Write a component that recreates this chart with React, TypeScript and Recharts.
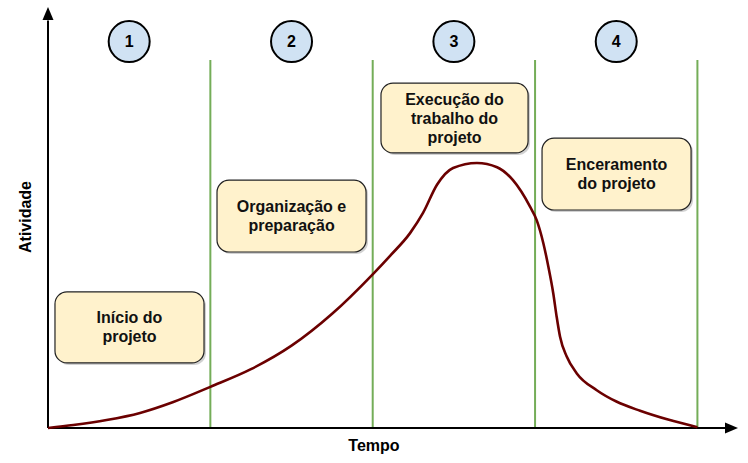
import React from 'react';
import {
  ComposedChart,
  Line,
  XAxis,
  YAxis,
  ReferenceLine,
  ReferenceArea,
  ReferenceDot,
  Customized
} from 'recharts';

// curve: time in phases (0..4), activity in % of the axis height
const timeValues = [
  0, 0.156, 0.361, 0.567, 0.772, 1.0, 1.25, 1.5, 1.75, 2.0, 2.107,
  2.23, 2.31, 2.396, 2.495, 2.642, 2.766, 2.864, 2.969, 3.01, 3.051, 3.082,
  3.112, 3.133, 3.154, 3.195, 3.257, 3.38, 3.501, 3.647, 3.819, 4.0
];
const activityValues = [
  0, 0.7, 1.9, 3.6, 6.2, 9.8, 14.0, 19.6, 27.2, 36.6, 41.0,
  46.4, 51.2, 57.9, 61.9, 63.1, 62.1, 59.0, 52.7, 49.5, 44.0, 38.4,
  32.1, 26.5, 21.7, 17.0, 13.0, 9.0, 6.3, 4.1, 2.0, 0.2
];

const phaseEnds = [1, 2, 3, 4];
const phaseNumbers = ['1', '2', '3', '4'];
const phaseTitles = [
  ['Início do', 'projeto'],
  ['Organização e', 'preparação'],
  ['Execução do', 'trabalho do', 'projeto'],
  ['Enceramento', 'do projeto']
];

// where each phase box sits (data units)
const boxLayout = [
  { x1: 0.043, x2: 0.961, y1: 15.5, y2: 32.4 },
  { x1: 1.041, x2: 1.959, y1: 41.9, y2: 59.0 },
  { x1: 2.051, x2: 2.957, y1: 65.5, y2: 82.1 },
  { x1: 3.043, x2: 3.961, y1: 51.9, y2: 69.0 }
];

const data = timeValues.map((t, i) => ({ t, activity: activityValues[i] }));

const FONT = '"Liberation Sans", Arial, sans-serif';

const PhaseBox = (lines: string[]) => (props: any) => {
  const { x, y, width, height } = props;
  const cx = x + width / 2;
  const cy = y + height / 2;
  const lh = 19;
  const startY = cy - ((lines.length - 1) * lh) / 2;
  return (
    <g>
      <rect x={x + 2} y={y + 2} width={width} height={height} rx={12} fill="#000" fillOpacity={0.18} />
      <rect x={x} y={y} width={width} height={height} rx={12} fill="#fff2cc" stroke="#222" strokeWidth={1.2} />
      {lines.map((l, i) => (
        <text
          key={i}
          x={cx}
          y={startY + i * lh}
          textAnchor="middle"
          dominantBaseline="central"
          fontFamily={FONT}
          fontWeight="bold"
          fontSize={16}
          fill="#111"
        >
          {l}
        </text>
      ))}
    </g>
  );
};

const PhaseCircle = (label: string) => (props: any) => {
  const { cx, cy } = props;
  return (
    <g>
      <circle cx={cx} cy={cy} r={20.5} fill="#d0e2f3" stroke="#000" strokeWidth={2} />
      <text
        x={cx}
        y={cy}
        textAnchor="middle"
        dominantBaseline="central"
        fontFamily={FONT}
        fontWeight="bold"
        fontSize={16}
        fill="#000"
      >
        {label}
      </text>
    </g>
  );
};

const UpArrow = (props: any) => {
  const { cx, cy } = props;
  return <path d={`M${cx},${cy - 1} L${cx - 5.5},${cy + 12} L${cx + 5.5},${cy + 12} Z`} fill="#000" />;
};

const RightArrow = (props: any) => {
  const { cx, cy } = props;
  return <path d={`M${cx},${cy} L${cx - 13},${cy - 5.5} L${cx - 13},${cy + 5.5} Z`} fill="#000" />;
};

const AxisTitles = () => (
  <g fontFamily={FONT} fontWeight="bold" fontSize={16} fill="#000">
    <text x={374} y={451} textAnchor="middle">Tempo</text>
    <text
      x={25}
      y={217}
      textAnchor="middle"
      dominantBaseline="central"
      transform="rotate(-90 25 217)"
    >
      Atividade
    </text>
  </g>
);

export default function App() {
  return (
    <div style={{ position: 'absolute', left: 0, top: 0, background: '#fff' }}>
      <ComposedChart
        width={748}
        height={463}
        data={data}
        margin={{ top: 8, right: 10, bottom: 35, left: 48 }}
      >
        <XAxis dataKey="t" type="number" domain={[0, 4.25]} hide />
        <YAxis type="number" domain={[0, 100]} hide />

        {phaseEnds.map((p) => (
          <ReferenceLine
            key={p}
            segment={[{ x: p, y: 0 }, { x: p, y: 87.6 }]}
            stroke="#74ad58"
            strokeWidth={2}
          />
        ))}

        <ReferenceLine segment={[{ x: 0, y: 0 }, { x: 0, y: 97 }]} stroke="#000" strokeWidth={2} />
        <ReferenceLine segment={[{ x: 0, y: 0 }, { x: 4.17, y: 0 }]} stroke="#000" strokeWidth={2} />
        <ReferenceDot x={0} y={100} r={6} shape={UpArrow} />
        <ReferenceDot x={4.25} y={0} r={6} shape={RightArrow} />

        {boxLayout.map((b, i) => (
          <ReferenceArea
            key={i}
            x1={b.x1}
            x2={b.x2}
            y1={b.y1}
            y2={b.y2}
            shape={PhaseBox(phaseTitles[i])}
          />
        ))}

        {phaseNumbers.map((n, i) => (
          <ReferenceDot key={n} x={i + 0.5} y={92} r={20} shape={PhaseCircle(n)} />
        ))}

        <Line
          type="monotone"
          dataKey="activity"
          stroke="#6b0000"
          strokeWidth={2.6}
          dot={false}
          isAnimationActive={false}
        />

        <Customized component={<AxisTitles />} />
      </ComposedChart>
    </div>
  );
}
